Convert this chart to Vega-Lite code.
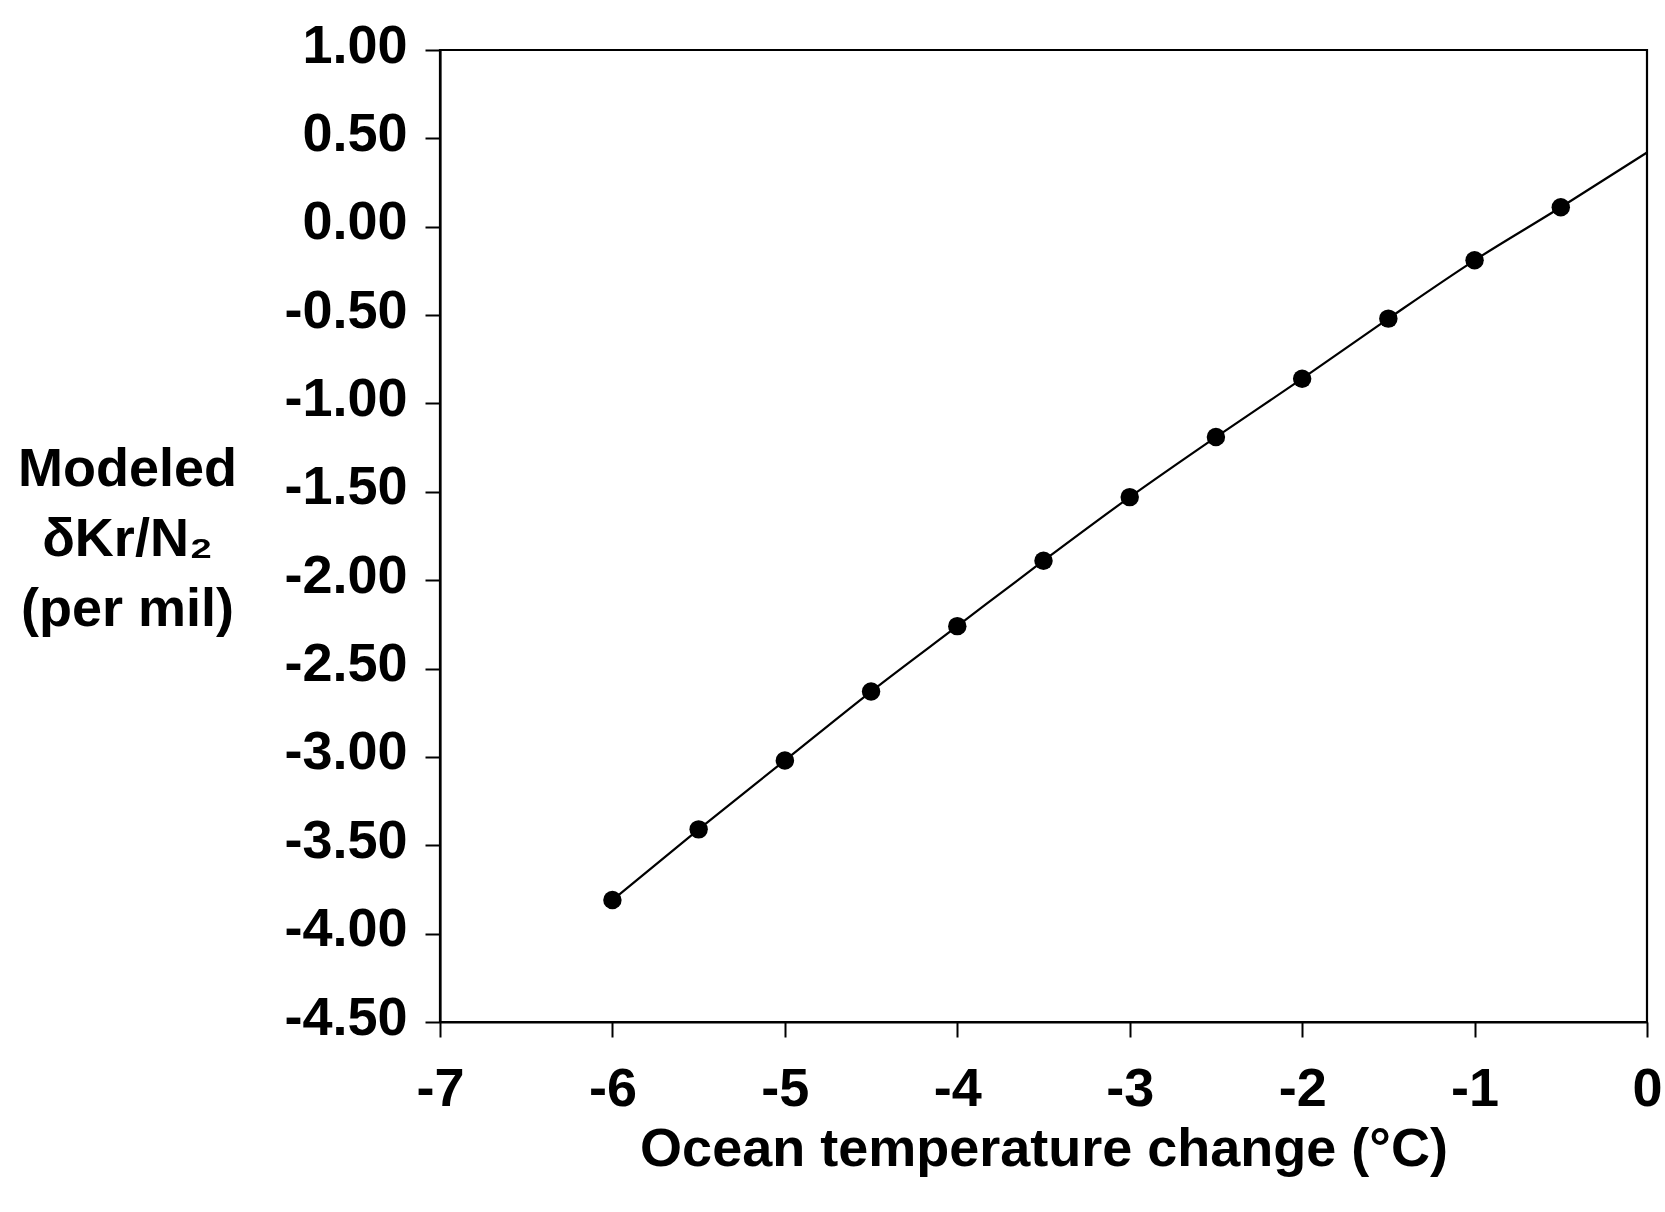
{
  "$schema": "https://vega.github.io/schema/vega-lite/v6.json",
  "width": 1207,
  "height": 972,
  "autosize": {"type": "none"},
  "padding": {"left": 440, "top": 50, "right": 18, "bottom": 190},
  "background": "white",
  "config": {
    "view": {"stroke": "black", "strokeWidth": 2.2},
    "font": "Liberation Sans",
    "axis": {
      "domainColor": "black",
      "domainWidth": 2.2,
      "tickColor": "black",
      "tickWidth": 2,
      "tickSize": 15,
      "grid": false,
      "labelFont": "Liberation Sans",
      "labelFontWeight": "bold",
      "labelFontSize": 54,
      "labelColor": "black",
      "titleFont": "Liberation Sans",
      "titleFontWeight": "bold",
      "titleFontSize": 54,
      "titleColor": "black"
    }
  },
  "data": {
    "values": [
      {"T": -6.0, "KrN2": -3.81},
      {"T": -5.5, "KrN2": -3.41},
      {"T": -5.0, "KrN2": -3.02},
      {"T": -4.5, "KrN2": -2.63},
      {"T": -4.0, "KrN2": -2.26},
      {"T": -3.5, "KrN2": -1.89},
      {"T": -3.0, "KrN2": -1.53},
      {"T": -2.5, "KrN2": -1.19},
      {"T": -2.0, "KrN2": -0.86},
      {"T": -1.5, "KrN2": -0.52},
      {"T": -1.0, "KrN2": -0.19},
      {"T": -0.5, "KrN2": 0.11},
      {"T": 0.0, "KrN2": 0.42}
    ]
  },
  "encoding": {
    "x": {
      "field": "T",
      "type": "quantitative",
      "scale": {"domain": [-7, 0], "nice": false, "zero": false},
      "axis": {
        "values": [-7, -6, -5, -4, -3, -2, -1, 0],
        "labelExpr": "replace(format(datum.value, 'd'), '\u2212', '-')",
        "labelPadding": 25,
        "labelFlush": false,
        "title": "Ocean temperature change (°C)",
        "titlePadding": 6
      }
    },
    "y": {
      "field": "KrN2",
      "type": "quantitative",
      "scale": {"domain": [-4.5, 1], "nice": false, "zero": false},
      "axis": {
        "values": [-4.5, -4, -3.5, -3, -2.5, -2, -1.5, -1, -0.5, 0, 0.5, 1],
        "labelExpr": "replace(format(datum.value, '.2f'), '\u2212', '-')",
        "labelPadding": 18,
        "labelOffset": -4,
        "labelFlush": false,
        "title": ["Modeled", "δKr/N₂", "(per mil)"],
        "titleAngle": 0,
        "titleAlign": "center",
        "titleBaseline": "middle",
        "titleLineHeight": 70,
        "titleX": -313,
        "titleY": 419
      }
    }
  },
  "layer": [
    {
      "mark": {"type": "line", "color": "black", "strokeWidth": 2.2, "interpolate": "monotone"}
    },
    {
      "transform": [{"filter": "datum.T < 0"}],
      "mark": {"type": "point", "shape": "circle", "filled": true, "color": "black", "opacity": 1, "size": 340}
    }
  ]
}
